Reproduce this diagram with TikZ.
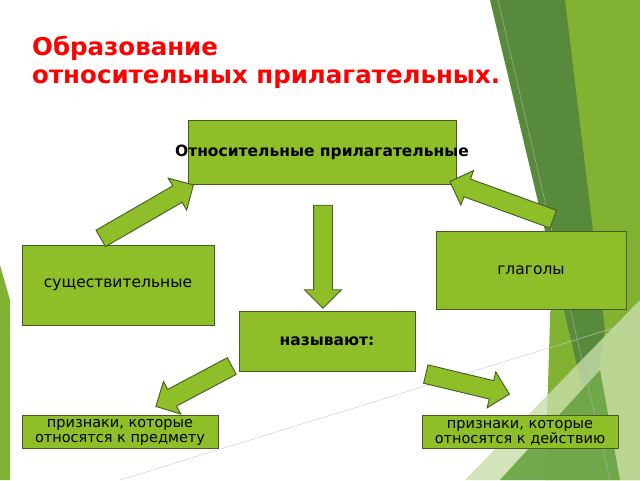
\documentclass[tikz,border=0pt]{standalone}
\usepackage{fontspec}
\setmainfont{DejaVu Sans}
\usetikzlibrary{shapes.arrows}
\definecolor{boxg}{RGB}{142,190,40}
\definecolor{edg}{RGB}{70,90,35}
\definecolor{dk}{RGB}{88,138,60}
\definecolor{lt}{RGB}{130,178,50}
\definecolor{pale}{RGB}{200,222,170}
\definecolor{mid}{RGB}{100,160,60}
\begin{document}
\begin{tikzpicture}[x=1pt,y=-1pt,
 box/.style={draw=edg,fill=boxg,line width=0.9pt,inner sep=0pt,font=\fontsize{15.5}{18}\selectfont,align=center},
 barr/.style={single arrow,draw=edg,fill=boxg,line width=0.9pt,minimum height=#1,single arrow head extend=9pt,inner sep=9pt,single arrow tip angle=90}]
\useasboundingbox (0,0) rectangle (640,480);
\fill[white] (0,0) rectangle (640,480);
% background decoration
\fill[lt] (560,0) -- (640,0) -- (640,480) -- (545,480) -- cycle;
\fill[dk] (490,0) -- (565,0) -- (605,330) -- (590,420) -- cycle;
\fill[pale,opacity=0.8] (465,480) -- (640,300) -- (640,480) -- cycle;
\fill[mid,opacity=0.85] (500,480) -- (600,370) -- (620,480) -- cycle;
\fill[lt] (0,265) -- (10,300) -- (10,480) -- (0,480) -- cycle;
\draw[gray!60,line width=0.4pt] (498,0) -- (610,480);
\draw[gray!40,line width=0.4pt] (120,480) -- (640,320);
% title
\node[anchor=north west,text=red,font=\bfseries\fontsize{24.5}{28}\selectfont,align=left,inner sep=0pt] (t) at (32,36) {Образование\\относительных прилагательных.};
% boxes
\node[box,minimum width=268pt,minimum height=64pt] (top) at (322,152) {\makebox[0pt]{\textbf{Относительные прилагательные}}};
\node[box,minimum width=190pt,minimum height=78pt] (gl) at (531,270) {глаголы};
\node[box,minimum width=192pt,minimum height=80pt] (su) at (118,285) {существительные};
\node[box,minimum width=176pt,minimum height=60pt] (na) at (327,341) {\textbf{называют:}};
\node[box,minimum width=196pt,minimum height=33pt,font=\fontsize{14.5}{15}\selectfont] (pl) at (120,432) {\raisebox{0pt}[9pt][0pt]{признаки, которые}\\относятся к предмету};
\node[box,minimum width=196pt,minimum height=33pt,font=\fontsize{14.5}{15}\selectfont] (pr) at (520,432) {\raisebox{0pt}[9pt][0pt]{признаки, которые}\\относятся к действию};
% block arrows
\node[barr=107pt,rotate=30] (a1) at (143,214) {};
\node[barr=110pt,rotate=160] (a2) at (506,202) {};
\node[barr=103pt,rotate=-90] (a3) at (323,252) {};
\node[barr=86pt,rotate=208] (a4) at (198,384) {};
\node[barr=86pt,rotate=-13.5] (a5) at (463,383) {};
\end{tikzpicture}
\end{document}
